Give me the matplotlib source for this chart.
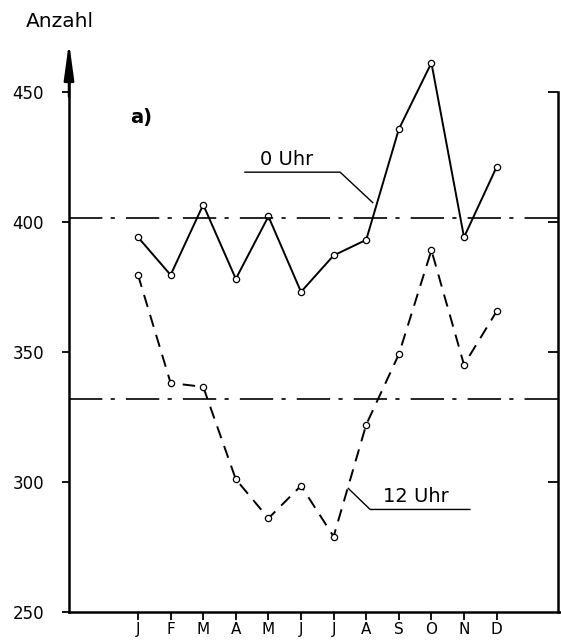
import matplotlib
matplotlib.use('Agg')
import matplotlib.pyplot as plt

plt.rcParams['lines.scale_dashes'] = False
plt.rcParams['font.family'] = ['DejaVu Sans']

months = ['J', 'F', 'M', 'A', 'M', 'J', 'J', 'A', 'S', 'O', 'N', 'D']
uhr0 = [394, 379.5, 406.5, 378, 402, 373, 387, 393, 435.5, 461, 394, 421]
uhr12 = [379.5, 338, 336.5, 301, 286, 298.5, 279, 322, 349, 389, 345, 365.5]
mean0 = 401.5
mean12 = 332
yticks = [250, 300, 350, 400, 450]

# figure with axes placed to match the scan
fig = plt.figure(figsize=(5.61, 6.44), dpi=100)
ax = fig.add_axes([0.123, 0.0497, 0.877, 0.885])
x = list(range(1, 13))

mk = dict(marker='o', ms=4.5, mfc='white', mec='k', mew=0.9)
ax.plot(x, uhr0, color='k', lw=1.4, **mk)
ax.plot(x, uhr12, color='k', lw=1.4, dashes=(9, 6), **mk)

ax.axhline(mean0, color='k', lw=1.2, dashes=(24, 6, 3, 8))
ax.axhline(mean12, color='k', lw=1.2, dashes=(24, 6, 3, 8))

ax.set_xlim(-1.117, 13.975)
ax.set_ylim(250, 469)
ax.set_xticks(x, months)
ax.set_yticks(yticks)

for s in ['top', 'right']:
    ax.spines[s].set_visible(False)
ax.spines['left'].set_bounds(250, 455)
ax.spines['left'].set_linewidth(1.8)
ax.spines['bottom'].set_linewidth(1.8)
ax.tick_params(axis='x', direction='out', length=6, width=1.3, pad=1.5, labelsize=11)
ax.tick_params(axis='y', direction='out', length=5, width=1.3, pad=13, labelsize=12)

# arrow on y axis
ax.annotate('', xy=(0, 469), xytext=(0, 448),
            xycoords=ax.get_yaxis_transform(), textcoords=ax.get_yaxis_transform(),
            arrowprops=dict(arrowstyle='-|>,head_length=1.1,head_width=0.15',
                            lw=1.8, color='k', mutation_scale=20, shrinkA=0, shrinkB=0))
ax.text(-0.018, 476.8, 'Anzahl', transform=ax.get_yaxis_transform(),
        ha='center', va='center', fontsize=14.5, clip_on=False)

# right frame line with inward ticks
ax2 = ax.twinx()
ax2.set_ylim(ax.get_ylim())
ax2.set_yticks(yticks[1:])
for s in ['top', 'left', 'bottom']:
    ax2.spines[s].set_visible(False)
ax2.spines['right'].set_position(('data', 13.88))
ax2.spines['right'].set_bounds(250, 450)
ax2.spines['right'].set_linewidth(1.8)
ax2.tick_params(axis='y', direction='in', length=7, width=1.3, labelright=False)

# labels
ax.text(0.75, 440, 'a)', fontsize=14, fontweight='bold', ha='left', va='center')
ax.text(4.74, 423.7, '0 Uhr', fontsize=14, ha='left', va='center')
ax.plot([4.28, 7.2, 8.2], [419, 419, 407.3], color='k', lw=1)
ax.text(8.52, 294.2, '12 Uhr', fontsize=14, ha='left', va='center')
ax.plot([7.45, 8.12, 11.18], [297.5, 289.4, 289.4], color='k', lw=1)

fig.savefig('out.png', dpi=100)
